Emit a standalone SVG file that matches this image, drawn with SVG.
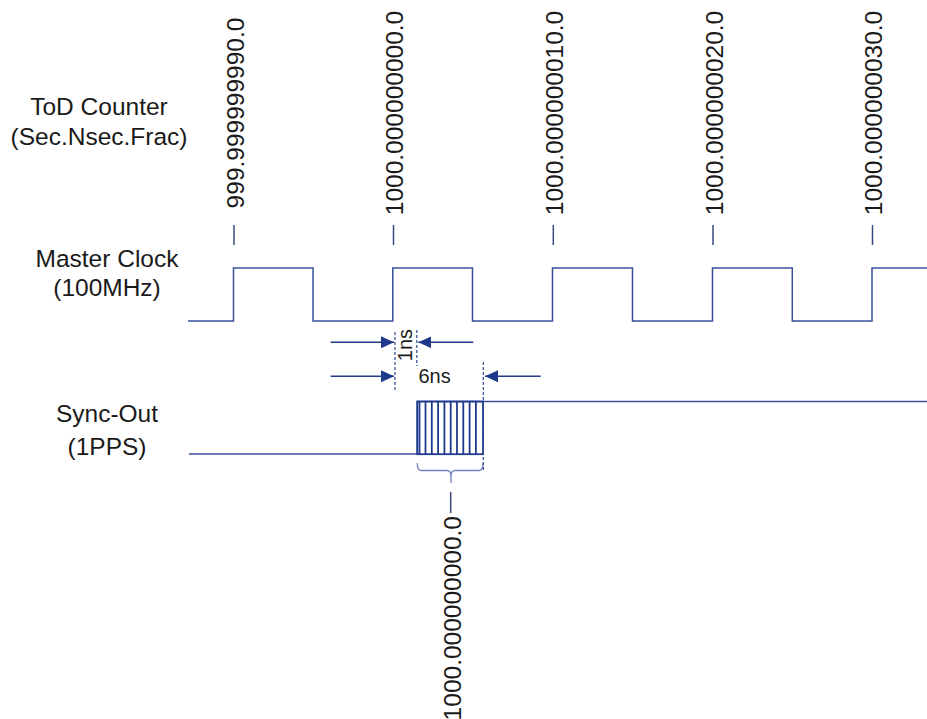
<svg xmlns="http://www.w3.org/2000/svg" width="927" height="719" viewBox="0 0 927 719">
<style>
  text { font-family: "Liberation Sans", Arial, sans-serif; fill: #1a1a1a; }
  .lbl { font-size: 24.5px; text-anchor: middle; }
  .val { font-size: 24.5px; }
  .dim { font-size: 20px; }
  .wave { fill: none; stroke: #3a4f9a; stroke-width: 1.5; }
  .tick { stroke: #3a4a80; stroke-width: 1.5; }
  .arr { stroke: #1f3a8c; stroke-width: 1.5; fill: none; }
  .dash { stroke: #2f4a94; stroke-width: 1.2; stroke-dasharray: 3 2; fill: none; }
  .hatch { stroke: #1f3a8c; stroke-width: 1.8; }
</style>
<defs>
  <marker id="ah" viewBox="0 0 13 12" refX="13" refY="6" markerWidth="13" markerHeight="12" markerUnits="userSpaceOnUse" orient="auto">
    <path d="M0,0 L13,6 L0,12 Z" fill="#1f3a8c"/>
  </marker>
</defs>

<g id="label-tod">
  <text class="lbl" x="99" y="115">ToD Counter</text>
  <text class="lbl" x="99" y="145">(Sec.Nsec.Frac)</text>
</g>
<g id="label-clock">
  <text class="lbl" x="107" y="267">Master Clock</text>
  <text class="lbl" x="107" y="296">(100MHz)</text>
</g>
<g id="label-sync">
  <text class="lbl" x="107" y="422">Sync-Out</text>
  <text class="lbl" x="107" y="455">(1PPS)</text>
</g>

<g id="tod-values">
  <text class="val" text-anchor="middle" transform="translate(243.5,113) rotate(-90)">999.999999990.0</text>
  <text class="val" text-anchor="middle" transform="translate(403.3,113) rotate(-90)">1000.000000000.0</text>
  <text class="val" text-anchor="middle" transform="translate(563,113) rotate(-90)">1000.000000010.0</text>
  <text class="val" text-anchor="middle" transform="translate(722.5,113) rotate(-90)">1000.000000020.0</text>
  <text class="val" text-anchor="middle" transform="translate(882,113) rotate(-90)">1000.000000030.0</text>
  <line class="tick" x1="234" y1="225" x2="234" y2="245"/>
  <line class="tick" x1="393.5" y1="225" x2="393.5" y2="245"/>
  <line class="tick" x1="553.3" y1="225" x2="553.3" y2="245"/>
  <line class="tick" x1="713" y1="225" x2="713" y2="245"/>
  <line class="tick" x1="872.5" y1="225" x2="872.5" y2="245"/>
</g>

<g id="master-clock">
  <path class="wave" d="M188,321 H233.5 V268 H313 V321 H392.8 V268 H472.5 V321 H552.5 V268 H632.5 V321 H712.5 V268 H792.3 V321 H872 V268 H927"/>
</g>

<g id="sync-out">
  <path class="wave" d="M189,454 H417.3 V401.5 H483 H927"/>
  <rect x="417.3" y="401.5" width="65.7" height="52.7" fill="none" stroke="#1f3a8c" stroke-width="1.8"/>
  <line class="hatch" x1="419.5" y1="401.5" x2="419.5" y2="454"/>
  <line class="hatch" x1="425.5" y1="401.5" x2="425.5" y2="454"/>
  <line class="hatch" x1="431.8" y1="401.5" x2="431.8" y2="454"/>
  <line class="hatch" x1="438.1" y1="401.5" x2="438.1" y2="454"/>
  <line class="hatch" x1="444.4" y1="401.5" x2="444.4" y2="454"/>
  <line class="hatch" x1="450.7" y1="401.5" x2="450.7" y2="454"/>
  <line class="hatch" x1="457" y1="401.5" x2="457" y2="454"/>
  <line class="hatch" x1="463.3" y1="401.5" x2="463.3" y2="454"/>
  <line class="hatch" x1="469.6" y1="401.5" x2="469.6" y2="454"/>
  <line class="hatch" x1="475.9" y1="401.5" x2="475.9" y2="454"/>
</g>

<g id="sync-value">
  <path d="M417.3,463 Q417.3,470.5 421.3,470.5 H447 Q451,470.5 451,476.5 Q451,470.5 455,470.5 H479 Q483,470.5 483,463" fill="none" stroke="#6f84c0" stroke-width="1.3"/>
  <line x1="451" y1="476" x2="451" y2="483" stroke="#6f84c0" stroke-width="1.3"/>
  <line class="tick" x1="450.7" y1="492" x2="450.7" y2="513"/>
  <text class="val" text-anchor="end" transform="translate(460.7,516) rotate(-90)">1000.000000000.0</text>
</g>

<g id="connectors">
  <line class="dash" x1="395" y1="332" x2="395" y2="390"/>
  <line class="dash" x1="416.8" y1="330" x2="416.8" y2="366"/>
  <line class="dash" x1="483.3" y1="362" x2="483.3" y2="470"/>
  <line class="arr" x1="330.7" y1="342.3" x2="394" y2="342.3" marker-end="url(#ah)"/>
  <line class="arr" x1="473.3" y1="342.3" x2="418.3" y2="342.3" marker-end="url(#ah)"/>
  <line class="arr" x1="330.7" y1="376.3" x2="394" y2="376.3" marker-end="url(#ah)"/>
  <line class="arr" x1="540.7" y1="376.3" x2="485" y2="376.3" marker-end="url(#ah)"/>
</g>

<g id="dim-labels">
  <text class="dim" text-anchor="middle" transform="translate(412,345) rotate(-90)">1ns</text>
  <text class="dim" x="418.5" y="383">6ns</text>
</g>
</svg>
